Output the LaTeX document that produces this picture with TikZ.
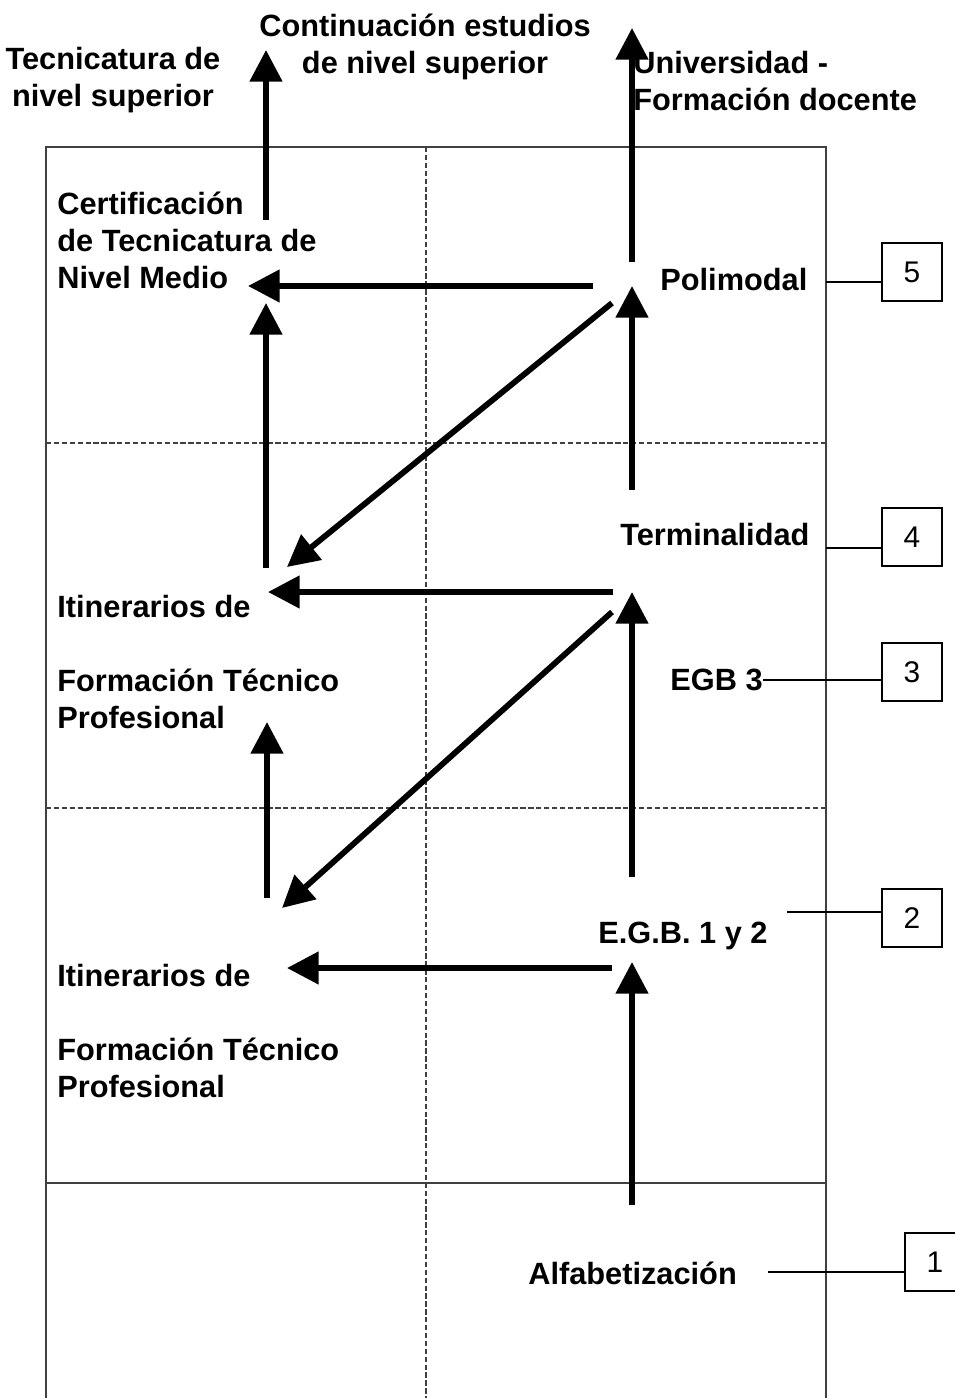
\documentclass[tikz,border=0pt]{standalone}
\usepackage{fontspec}
\setmainfont{Liberation Sans}
\usetikzlibrary{arrows.meta}

\begin{document}
\begin{tikzpicture}[x=0.02cm, y=-0.02cm,
  flecha/.style={line width=3.3pt, -{Triangle[length=18pt,width=18pt]}},
  grilla/.style={line width=0.7pt, black!75},
  punteada/.style={grilla, dash pattern=on 3pt off 1.5pt},
  nivel/.style={draw, line width=0.8pt, minimum width=34pt, minimum height=33pt, inner sep=0pt, font=\fontsize{17}{20}\selectfont},
  texto/.style={inner sep=0pt, align=left, anchor=west, font=\fontsize{17.5}{21}\selectfont\bfseries}]
\useasboundingbox (0,0) rectangle (954,1398);
% cuadricula
\draw[grilla] (46,1398) -- (46,147) -- (826,147) -- (826,1398);
\draw[punteada] (426,147) -- (426,1398);
\draw[punteada] (46,443) -- (826,443);
\draw[punteada] (46,808) -- (826,808);
\draw[grilla] (46,1183) -- (826,1183);

\begin{scope}[every node/.style={texto}]
\node[anchor=center, align=center] (tecsup) at (113,80) {Tecnicatura de\\nivel superior};
\node[anchor=center, align=center] (contsup) at (425,47) {Continuación estudios\\de nivel superior};
\node (univ) at (633,81) {Universidad -\\Formación docente};
\node (cert) at (57,240) {Certificación\\de Tecnicatura de\\Nivel Medio};
\node (poli) at (660,280) {Polimodal};
\node (termi) at (620,535) {Terminalidad};
\node (egb3) at (670,680) {EGB 3};
\node (itin1) at (57,662) {Itinerarios de\\[21pt]Formación Técnico\\Profesional};
\node (egb12) at (598,936) {E.G.B.\ 1 y 2};
\node (itin2) at (57,1031) {Itinerarios de\\[21pt]Formación Técnico\\Profesional};
\node (alfa) at (528,1273) {Alfabetización};
\end{scope}

\begin{scope}[every node/.style={nivel}]
\node (b5) at (912,272) {5};
\node (b4) at (912,537) {4};
\node (b3) at (912,672) {3};
\node (b2) at (912,918) {2};
\node (b1) at (935,1262) {1};
\end{scope}

% extremos de las flechas
\coordinate (c1) at (266,220);  \coordinate (c2) at (266,50);
\coordinate (u1) at (632,262);  \coordinate (u2) at (632,28);
\coordinate (p1) at (593,286);  \coordinate (p2) at (248,286);
\coordinate (p3) at (632,286);  \coordinate (p4) at (612,303);
\coordinate (i1) at (287,567);  \coordinate (i2) at (266,568);
\coordinate (i3) at (266,303);
\coordinate (t1) at (632,490);  \coordinate (t2) at (613,592);
\coordinate (t3) at (268,592);  \coordinate (t4) at (632,592);
\coordinate (t5) at (612,612);
\coordinate (e1) at (632,877);  \coordinate (e2) at (282,908);
\coordinate (e3) at (267,898);  \coordinate (e4) at (267,722);
\coordinate (e5) at (612,968);  \coordinate (e6) at (287,968);
\coordinate (e7) at (632,962);  \coordinate (a1) at (632,1205);

\begin{scope}[flecha]
\draw (c1) -- (c2);
\draw (u1) -- (u2);
\draw (p1) -- (p2);
\draw (t1) -- (p3);
\draw (p4) -- (i1);
\draw (i2) -- (i3);
\draw (t2) -- (t3);
\draw (e1) -- (t4);
\draw (t5) -- (e2);
\draw (e3) -- (e4);
\draw (e5) -- (e6);
\draw (a1) -- (e7);
\end{scope}

% lineas a los niveles
\coordinate (l5) at (826,282);
\coordinate (l4) at (826,548);
\coordinate (l2) at (787,912);
\coordinate (l1) at (768,1272);
\begin{scope}[line width=0.8pt]
\draw (l5) -- (l5 -| b5.west);
\draw (l4) -- (l4 -| b4.west);
\draw (egb3.east) -- (egb3.east -| b3.west);
\draw (l2) -- (l2 -| b2.west);
\draw (l1) -- (l1 -| b1.west);
\end{scope}
\end{tikzpicture}
\end{document}
